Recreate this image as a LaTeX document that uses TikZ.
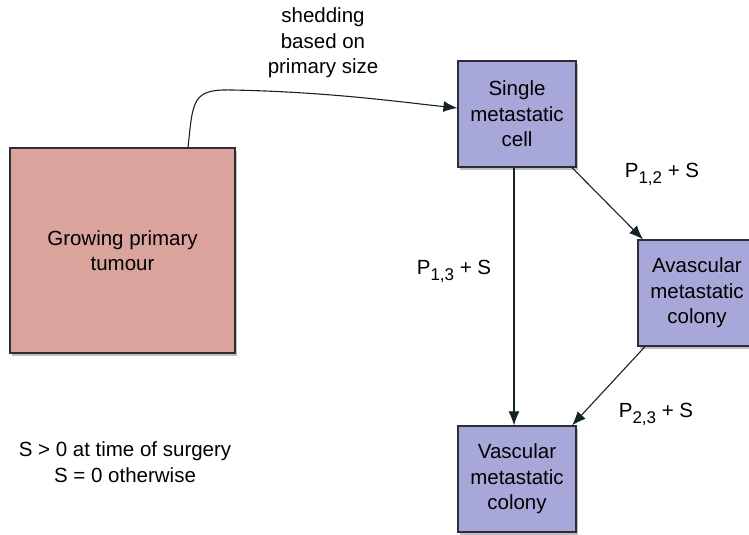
\documentclass[tikz,border=0pt]{standalone}
\usepackage{fontspec}
\setmainfont{Liberation Sans}
\usetikzlibrary{arrows.meta,shadows}
\definecolor{pinkfill}{RGB}{218,164,156}
\definecolor{bluefill}{RGB}{168,167,217}
\definecolor{edgecol}{RGB}{45,45,55}
\definecolor{linecol}{RGB}{20,35,40}
\newcommand{\psub}[1]{P\raisebox{-6pt}{\fontsize{17}{17}\selectfont #1}}
\tikzset{
  boxbase/.style={draw=edgecol, line width=1.2pt, align=center, inner sep=0pt,
    font=\fontsize{20.5}{25.5}\selectfont,
    drop shadow={shadow xshift=1.5pt, shadow yshift=-3pt, opacity=0.25, fill=black}},
  pinkbox/.style={boxbase, fill=pinkfill},
  bluebox/.style={boxbase, fill=bluefill},
  conn/.style={draw=linecol, line width=1.1pt, -{Latex[length=14pt,width=11pt]}},
  lbl/.style={font=\fontsize{20.5}{25.5}\selectfont, align=center, inner sep=0pt},
}
\begin{document}
\begin{tikzpicture}[x=1pt,y=-1pt]
\useasboundingbox (0,0) rectangle (749,535);
% boxes
\node[pinkbox, minimum width=225pt, minimum height=205pt] (primary) at (122.5,250.5) {Growing primary\\tumour};
\node[bluebox, minimum width=118pt, minimum height=106pt] (single) at (517,114) {Single\\metastatic\\cell};
\node[bluebox, minimum width=118pt, minimum height=106pt] (avasc) at (697,293) {Avascular\\metastatic\\colony};
\node[bluebox, minimum width=118pt, minimum height=106pt] (vasc) at (517,479) {Vascular\\metastatic\\colony};
% connectors
\coordinate (shedstart) at (188,148);
\draw[conn] (shedstart) .. controls (193,100) and (192,89) .. (232,90)
  .. controls (330,92) and (400,102) .. (single.west |- 0,108);
\draw[conn] (single.south -| 514,0) -- (vasc.north -| 514,0);
\draw[conn] (single.south -| 572,0) -- (avasc.north -| 643,0);
\draw[conn] (avasc.south -| 645,0) -- (vasc.north -| 572,0);
% labels
\node[lbl] (shedlbl) at (323,43) {shedding\\based on\\primary size};
\node[lbl] (p12) at (662,174) {\psub{1,2} + S};
\node[lbl] (p13) at (454,271) {\psub{1,3} + S};
\node[lbl] (p23) at (656,414) {\psub{2,3} + S};
\node[lbl] (snote) at (125,462) {S > 0 at time of surgery\\S = 0 otherwise};
\end{tikzpicture}
\end{document}
